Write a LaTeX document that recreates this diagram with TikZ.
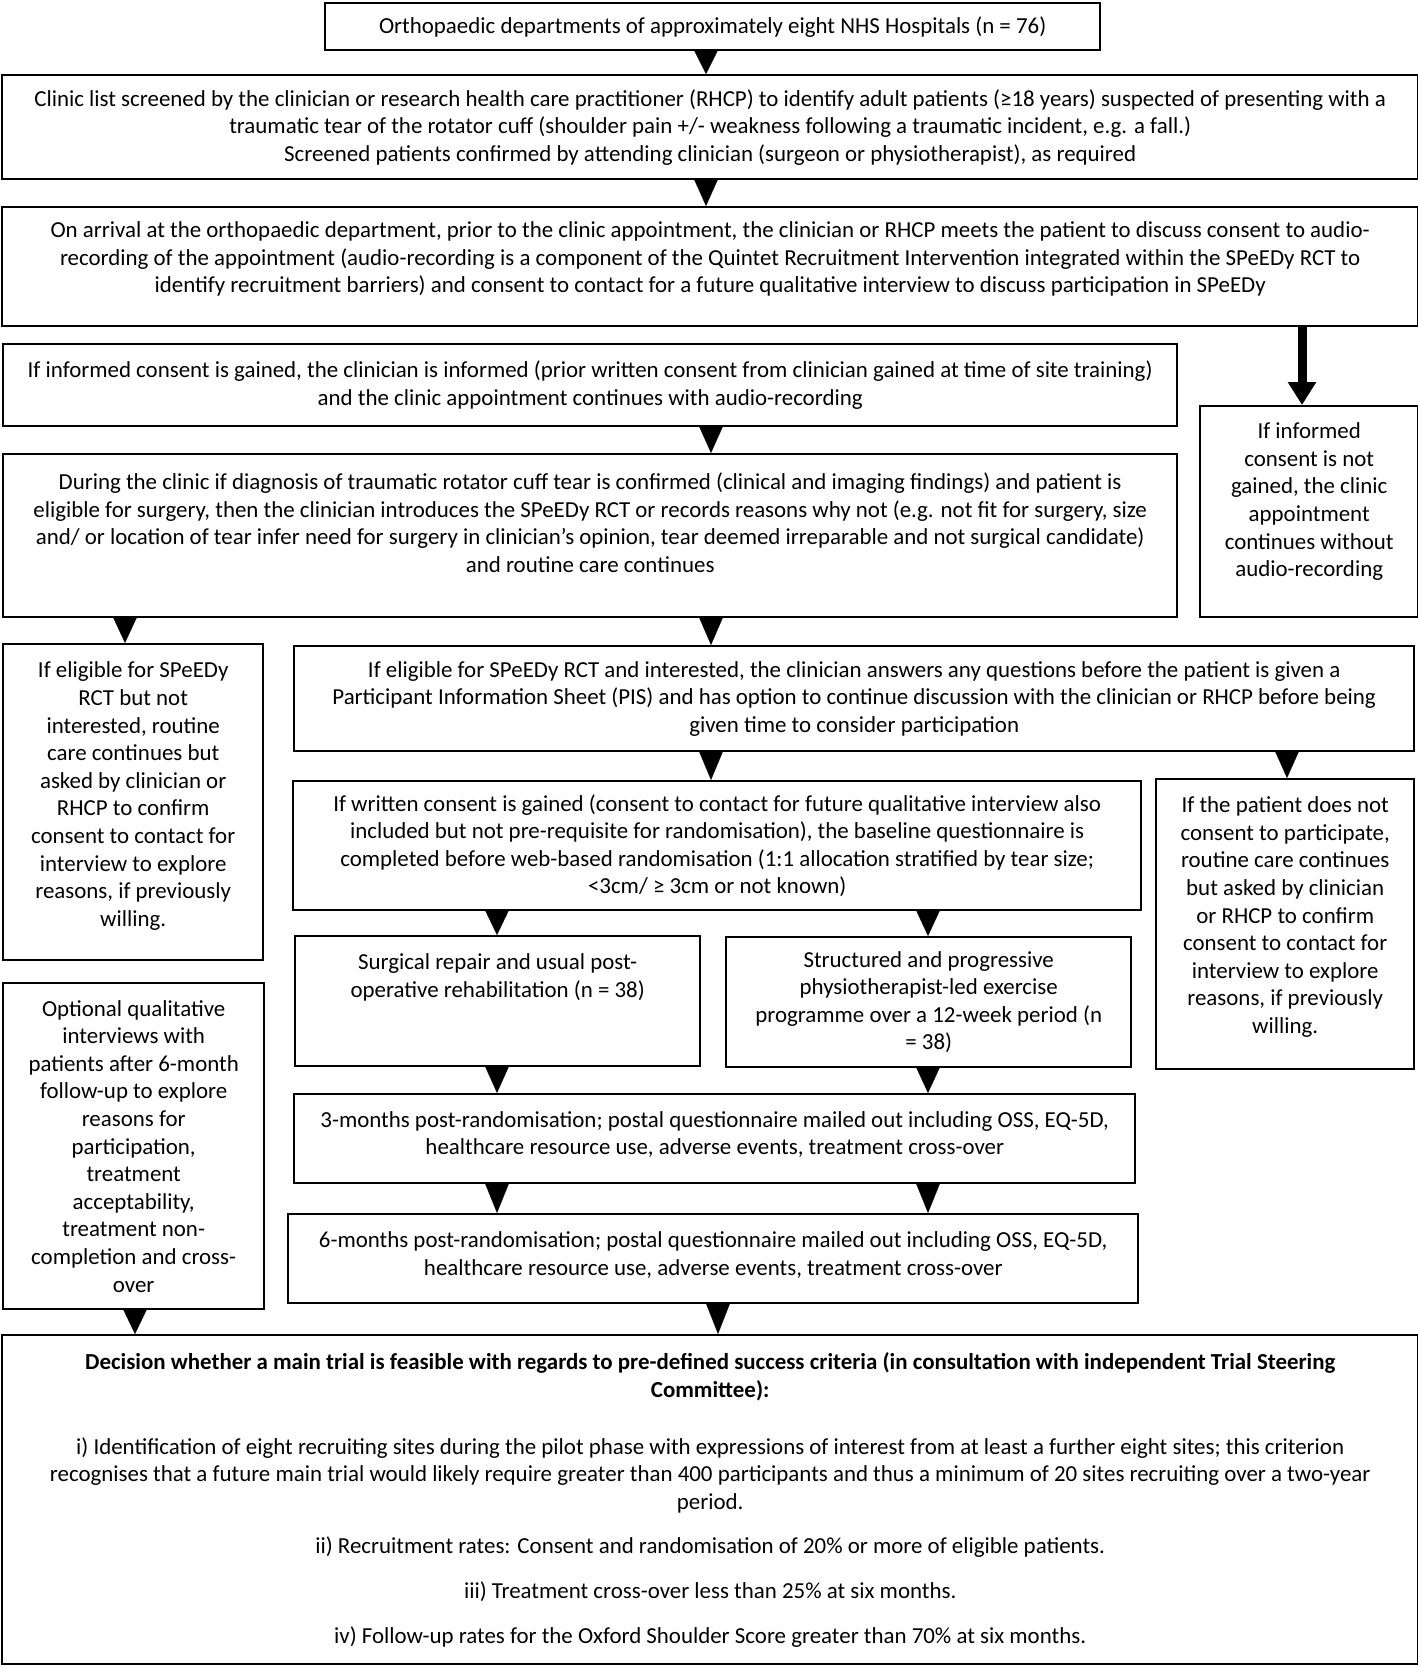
\documentclass[tikz,border=0pt]{standalone}
\usepackage{fontspec}
\setmainfont{Carlito}
\usetikzlibrary{arrows.meta}
\newcommand{\bxt}[4]{\parbox[c][#2][c]{#1}{\centering #4\par\vspace*{#3}\vspace*{#3}}}
\tikzset{
  box/.style={draw=black, line width=1.2pt, inner sep=0pt, anchor=north west, fill=white},
  tri/.style={line width=0.1pt, -{Triangle[width=12.5pt,length=#1]}},
  tri/.default=14pt,
  thickarrow/.style={line width=4.5pt, -{Triangle[width=13.5pt,length=11.5pt]}}
}
\begin{document}
\begin{tikzpicture}[x=0.5pt,y=-0.5pt,font=\fontsize{11.45}{13.8}\selectfont]
\useasboundingbox (0,0) rectangle (1418,1665);
% column coordinates for connectors
\coordinate (c706) at (706,0);
\coordinate (c711) at (711,0);
\coordinate (c125) at (125,0);
\coordinate (c1287) at (1287,0);
\coordinate (c497) at (497,0);
\coordinate (c928) at (928,0);
\coordinate (c135) at (135,0);
\coordinate (c718) at (718,0);
\coordinate (c1302) at (1302,0);

\node[box] (A) at (324,2) {\bxt{387.5pt}{23.5pt}{0pt}{Orthopaedic departments of approximately eight NHS Hospitals (n = 76)}};

\node[box] (B) at (1,74) {\bxt{708pt}{52pt}{0pt}{Clinic list screened by the clinician or research health care practitioner (RHCP) to identify adult patients (≥18 years) suspected of presenting with a\\ traumatic tear of the rotator cuff (shoulder pain +/- weakness following a traumatic incident, e.g. a fall.)\\ Screened patients confirmed by attending clinician (surgeon or physiotherapist), as required}};

\node[box] (C) at (1,206) {\bxt{708pt}{59.5pt}{3.75pt}{On arrival at the orthopaedic department, prior to the clinic appointment, the clinician or RHCP meets the patient to discuss consent to audio-\\recording of the appointment (audio-recording is a component of the Quintet Recruitment Intervention integrated within the SPeEDy RCT to\\ identify recruitment barriers) and consent to contact for a future qualitative interview to discuss participation in SPeEDy}};

\node[box] (D) at (2,343) {\bxt{587pt}{41pt}{0pt}{If informed consent is gained, the clinician is informed (prior written consent from clinician gained at time of site training)\\ and the clinic appointment continues with audio-recording}};

\node[box] (E) at (1199,405) {\bxt{109pt}{105.5pt}{5pt}{If informed\\ consent is not\\ gained, the clinic\\ appointment\\ continues without\\ audio-recording}};

\node[box] (F) at (2,453) {\bxt{587pt}{81.5pt}{6.5pt}{During the clinic if diagnosis of traumatic rotator cuff tear is confirmed (clinical and imaging findings) and patient is\\ eligible for surgery, then the clinician introduces the SPeEDy RCT or records reasons why not (e.g. not fit for surgery, size\\ and/ or location of tear infer need for surgery in clinician’s opinion, tear deemed irreparable and not surgical candidate)\\ and routine care continues}};

\node[box] (G) at (2,643) {\bxt{130pt}{158pt}{3pt}{If eligible for SPeEDy\\ RCT but not\\ interested, routine\\ care continues but\\ asked by clinician or\\ RHCP to confirm\\ consent to contact for\\ interview to explore\\ reasons, if previously\\ willing.}};

\node[box] (H) at (293,645) {\bxt{560pt}{52.5pt}{0pt}{If eligible for SPeEDy RCT and interested, the clinician answers any questions before the patient is given a\\ Participant Information Sheet (PIS) and has option to continue discussion with the clinician or RHCP before being\\ given time to consider participation}};

\node[box] (I) at (292,780) {\bxt{424pt}{64.5pt}{0pt}{If written consent is gained (consent to contact for future qualitative interview also\\ included but not pre-requisite for randomisation), the baseline questionnaire is\\ completed before web-based randomisation (1:1 allocation stratified by tear size;\\ <3cm/ ≥ 3cm or not known)}};

\node[box] (J) at (1155,778) {\bxt{129pt}{145pt}{3.5pt}{If the patient does not\\ consent to participate,\\ routine care continues\\ but asked by clinician\\ or RHCP to confirm\\ consent to contact for\\ interview to explore\\ reasons, if previously\\ willing.}};

\node[box] (K) at (294,935) {\bxt{202.5pt}{65pt}{12pt}{Surgical repair and usual post-\\ operative rehabilitation (n = 38)}};

\node[box] (L) at (725,936) {\bxt{202.5pt}{65pt}{0pt}{Structured and progressive\\ physiotherapist-led exercise\\ programme over a 12-week period (n\\ = 38)}};

\node[box] (M) at (2,982) {\bxt{130.5pt}{163pt}{0pt}{Optional qualitative\\ interviews with\\ patients after 6-month\\ follow-up to explore\\ reasons for\\ participation,\\ treatment\\ acceptability,\\ treatment non-\\ completion and cross-\\ over}};

\node[box] (N) at (293,1093) {\bxt{420.5pt}{44.5pt}{2pt}{3-months post-randomisation; postal questionnaire mailed out including OSS, EQ-5D,\\ healthcare resource use, adverse events, treatment cross-over}};

\node[box] (O) at (287,1213) {\bxt{425pt}{44.5pt}{2pt}{6-months post-randomisation; postal questionnaire mailed out including OSS, EQ-5D,\\ healthcare resource use, adverse events, treatment cross-over}};

\node[box] (P) at (1,1334) {\bxt{708pt}{164.5pt}{0pt}{\textbf{Decision whether a main trial is feasible with regards to pre-defined success criteria (in consultation with independent Trial Steering\\ Committee):}\par\vspace{14.7pt}
i) Identification of eight recruiting sites during the pilot phase with expressions of interest from at least a further eight sites; this criterion\\ recognises that a future main trial would likely require greater than 400 participants and thus a minimum of 20 sites recruiting over a two-year\\ period.\par\vspace{8.5pt}
ii) Recruitment rates: Consent and randomisation of 20\% or more of eligible patients.\par\vspace{8.5pt}
iii) Treatment cross-over less than 25\% at six months.\par\vspace{8.5pt}
iv) Follow-up rates for the Oxford Shoulder Score greater than 70\% at six months.}};

% connectors
\draw[tri=12.5pt] (A.south -| c706) -- (B.north -| c706);
\draw[tri=14pt] (B.south -| c706) -- (C.north -| c706);
\draw[thickarrow] (C.south -| c1302) -- (E.north -| c1302);
\draw[tri=14pt] (D.south -| c711) -- (F.north -| c711);
\draw[tri=13.5pt] (F.south -| c125) -- (G.north -| c125);
\draw[tri=14.5pt] (F.south -| c711) -- (H.north -| c711);
\draw[tri=15pt] (H.south -| c711) -- (I.north -| c711);
\draw[tri=14pt] (H.south -| c1287) -- (J.north -| c1287);
\draw[tri=13pt] (I.south -| c497) -- (K.north -| c497);
\draw[tri=13.5pt] (I.south -| c928) -- (L.north -| c928);
\draw[tri=14pt] (K.south -| c497) -- (N.north -| c497);
\draw[tri=13.5pt] (L.south -| c928) -- (N.north -| c928);
\draw[tri=15.5pt] (N.south -| c497) -- (O.north -| c497);
\draw[tri=15.5pt] (N.south -| c928) -- (O.north -| c928);
\draw[tri=13pt] (M.south -| c135) -- (P.north -| c135);
\draw[tri=16pt] (O.south -| c718) -- (P.north -| c718);
\end{tikzpicture}
\end{document}
